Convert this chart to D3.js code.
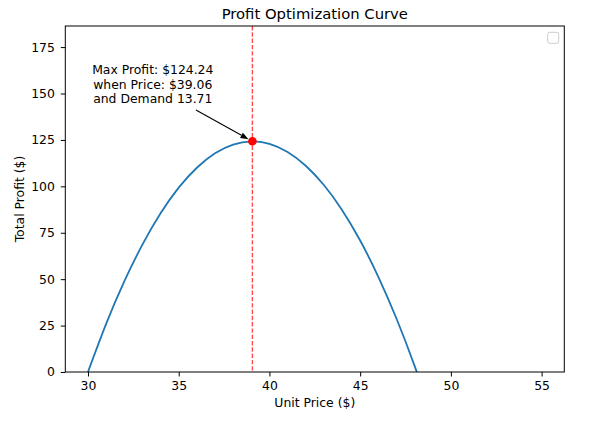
<!DOCTYPE html>
<html>
<head>
<meta charset="utf-8">
<script src="https://cdn.jsdelivr.net/npm/d3@7"></script>
<style>
  body { margin: 0; background: #fff; }
  svg { font-family: "DejaVu Sans", sans-serif; }
</style>
</head>
<body>
<svg id="chart" width="596" height="423"></svg>
<script>
// values
var prices  = [30, 31, 32, 33, 34, 35, 36, 37, 38, 39, 40, 41, 42, 43, 44, 45, 46, 47, 48, 49, 50];
var profits = [0, 25.9, 48.8, 68.6, 85.5, 99.3, 110.0, 117.8, 122.5, 124.2, 122.9, 118.5, 111.1, 100.7, 87.3, 70.8, 51.3, 28.8, 3.3, -25.3, -56.9];
var priceRange = [30, 55];
var xTicks = [30, 35, 40, 45, 50, 55];
var yTicks = [0, 25, 50, 75, 100, 125, 150, 175];
var optPrice = 39.06, maxProfit = 124.24, optDemand = 13.71;
var noteLines = ["Max Profit: $" + maxProfit.toFixed(2),
                 "when Price: $" + optPrice.toFixed(2),
                 "and Demand " + optDemand.toFixed(2)];

var margin = {top: 26, right: 31.7, bottom: 51, left: 65.3},
    width = 596 - margin.left - margin.right,
    height = 423 - margin.top - margin.bottom;

var svg = d3.select("#chart");
var g = svg.append("g").attr("transform", "translate(" + margin.left + "," + margin.top + ")");

var pad = (priceRange[1] - priceRange[0]) * 0.05;
var xScale = d3.scaleLinear().domain([priceRange[0] - pad, priceRange[1] + pad]).range([0, width]);
var yScale = d3.scaleLinear().domain([0, maxProfit * 1.5]).range([height, 0]);

svg.append("defs").append("clipPath").attr("id", "plot-clip")
  .append("rect").attr("width", width).attr("height", height);

// axes
var xAxis = d3.axisBottom(xScale).tickValues(xTicks).tickSize(4.5).tickPadding(4.5).tickSizeOuter(0);
g.append("g").attr("class", "x-axis").attr("transform", "translate(0," + height + ")").call(xAxis);
var yAxis = d3.axisLeft(yScale).tickValues(yTicks).tickSize(4.5).tickPadding(6).tickSizeOuter(0);
g.append("g").attr("class", "y-axis").call(yAxis);
g.selectAll(".x-axis, .y-axis").selectAll(".domain").remove();
g.selectAll(".tick line").attr("stroke", "#000").attr("stroke-width", 1);
g.selectAll(".tick text").attr("fill", "#000").style("font-size", "12.4px").style("font-family", "DejaVu Sans");

var plot = g.append("g").attr("clip-path", "url(#plot-clip)");

// vertical line at the optimum
plot.append("line")
  .attr("x1", xScale(optPrice)).attr("x2", xScale(optPrice))
  .attr("y1", 0).attr("y2", height)
  .attr("stroke", "red").attr("stroke-opacity", 0.7)
  .attr("stroke-width", 1.4).attr("stroke-dasharray", "4.4,1.9");

// profit curve
var line = d3.line()
  .x(function(d, i) { return xScale(prices[i]); })
  .y(function(d) { return yScale(d); })
  .curve(d3.curveNatural);
plot.append("path")
  .datum(profits)
  .attr("fill", "none")
  .attr("stroke", "#1f77b4")
  .attr("stroke-width", 1.8)
  .attr("d", line);

// frame
g.append("rect").attr("width", width).attr("height", height)
  .attr("fill", "none").attr("stroke", "#000").attr("stroke-width", 1);

// annotation arrow
var ax0 = xScale(35.95), ay0 = yScale(141.1);
var ax1 = xScale(optPrice), ay1 = yScale(maxProfit);
var ang = Math.atan2(ay1 - ay0, ax1 - ax0);
var tipX = ax1 - Math.cos(ang) * 4.5, tipY = ay1 - Math.sin(ang) * 4.5;
var headLen = 8, headW = 3;
var bx = tipX - Math.cos(ang) * headLen, by = tipY - Math.sin(ang) * headLen;
g.append("line")
  .attr("x1", ax0).attr("y1", ay0).attr("x2", bx).attr("y2", by)
  .attr("stroke", "#000").attr("stroke-width", 1.1);
g.append("path")
  .attr("d", "M" + tipX + "," + tipY +
    "L" + (bx + Math.sin(ang) * headW) + "," + (by - Math.cos(ang) * headW) +
    "L" + (bx - Math.sin(ang) * headW) + "," + (by + Math.cos(ang) * headW) + "Z")
  .attr("fill", "#000");

// max point
g.append("circle")
  .attr("cx", xScale(optPrice)).attr("cy", yScale(maxProfit))
  .attr("r", 4.3).attr("fill", "red");

// annotation text
var note = g.append("text")
  .attr("x", xScale(33.57))
  .attr("y", yScale(152.5) - 14.5)
  .attr("text-anchor", "middle")
  .style("font-size", "12.4px")
  .attr("fill", "#000");
note.selectAll("tspan").data(noteLines).enter().append("tspan")
  .attr("x", xScale(33.57))
  .attr("dy", function(d, i) { return i === 0 ? 0 : 14.5; })
  .text(function(d) { return d; });

// empty legend box
g.append("rect")
  .attr("x", width - 16.6).attr("y", 6.3)
  .attr("width", 11).attr("height", 11).attr("rx", 2)
  .attr("fill", "#fff").attr("stroke", "#cccccc").attr("stroke-width", 1);

// titles
svg.append("text")
  .attr("x", margin.left + width / 2).attr("y", 19)
  .attr("text-anchor", "middle").style("font-size", "14.8px")
  .text("Profit Optimization Curve");
svg.append("text")
  .attr("x", margin.left + width / 2).attr("y", 406.5)
  .attr("text-anchor", "middle").style("font-size", "12.4px")
  .text("Unit Price ($)");
svg.append("text")
  .attr("transform", "translate(24," + (margin.top + height / 2) + ") rotate(-90)")
  .attr("text-anchor", "middle").style("font-size", "12.4px")
  .text("Total Profit ($)");
</script>
</body>
</html>
